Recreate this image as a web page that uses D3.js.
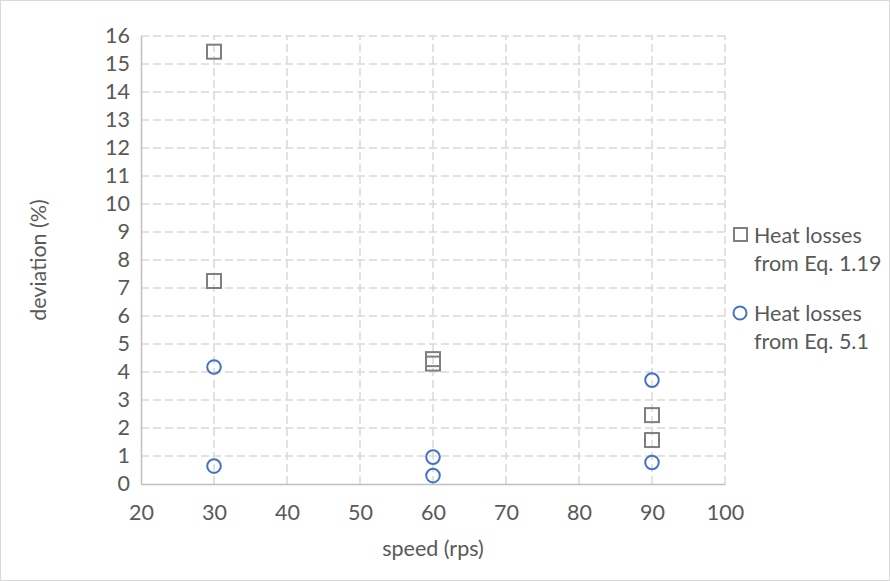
<!DOCTYPE html>
<html><head><meta charset="utf-8">
<script src="https://cdn.jsdelivr.net/npm/d3@7"></script>
<style>body{margin:0;background:#fff;} text{font-family:Lato,"Open Sans",sans-serif;}</style>
</head><body><svg id="c" width="890" height="581"></svg>
<script>
const eq119X = [30, 30, 60, 60, 90, 90];
const eq119Y = [15.44, 7.25, 4.46, 4.30, 2.46, 1.57];
const eq51X = [30, 30, 60, 60, 90, 90];
const eq51Y = [4.18, 0.64, 0.96, 0.30, 3.71, 0.77];
const xTicks = [20, 30, 40, 50, 60, 70, 80, 90, 100];
const yTicks = d3.range(0, 17);
const seriesNames = [["Heat losses", "from Eq. 1.19"], ["Heat losses", "from Eq. 5.1"]];

const FS = "21.5px";
const svg = d3.select("#c");
svg.append("rect").attr("x",0.5).attr("y",0.5).attr("width",889).attr("height",580)
  .attr("fill","#fff").attr("stroke","#d9d9d9");

const x = d3.scaleLinear().domain([20,100]).range([141,725]);
const y = d3.scaleLinear().domain([0,16]).range([484,36]);
const txt = "#595959";

// grid
svg.append("g").selectAll("line").data(yTicks.filter(d=>d>0)).join("line")
  .attr("x1",x(20)).attr("x2",x(100)).attr("y1",d=>y(d)).attr("y2",d=>y(d))
  .attr("stroke","#d9d9d9").attr("stroke-width",1.5).attr("stroke-dasharray","8,4");
svg.append("g").selectAll("line").data(xTicks.filter(d=>d>20)).join("line")
  .attr("x1",d=>x(d)).attr("x2",d=>x(d)).attr("y1",y(0)).attr("y2",y(16))
  .attr("stroke","#d9d9d9").attr("stroke-width",1.5).attr("stroke-dasharray","8,4");

// axes
const xa = svg.append("g").attr("transform",`translate(0,${y(0)})`)
  .call(d3.axisBottom(x).tickValues(xTicks).tickSize(0).tickPadding(21));
const ya = svg.append("g").attr("transform",`translate(${x(20)},0)`)
  .call(d3.axisLeft(y).tickValues(yTicks).tickSize(0).tickPadding(11));
[xa,ya].forEach(a=>{
  a.select(".domain").attr("stroke","#bfbfbf").attr("stroke-width",1.5);
  a.selectAll("text").attr("fill",txt).style("font-size",FS).style("font-family","Lato,'Open Sans',sans-serif");
});

// markers
const sq = 14;
svg.append("g").selectAll("rect").data(eq119X.map((d,i)=>[d,eq119Y[i]])).join("rect")
  .attr("x",d=>x(d[0])-sq/2).attr("y",d=>y(d[1])-sq/2).attr("width",sq).attr("height",sq)
  .attr("fill","none").attr("stroke","#7f7f7f").attr("stroke-width",2);
svg.append("g").selectAll("circle").data(eq51X.map((d,i)=>[d,eq51Y[i]])).join("circle")
  .attr("cx",d=>x(d[0])).attr("cy",d=>y(d[1])).attr("r",6.8)
  .attr("fill","none").attr("stroke","#4472c4").attr("stroke-width",2);

// axis titles
svg.append("text").attr("x",433).attr("y",556).attr("text-anchor","middle")
  .attr("fill",txt).style("font-size",FS).text("speed (rps)");
svg.append("text").attr("transform","translate(46,260) rotate(-90)").attr("text-anchor","middle")
  .attr("fill",txt).style("font-size",FS).text("deviation (%)");

// legend
const leg = svg.append("g");
const legY = [235, 313];
seriesNames.forEach((nm,i)=>{
  const g = leg.append("g").attr("transform",`translate(0,${legY[i]})`);
  if(i===0) g.append("rect").attr("x",734).attr("y",-7).attr("width",13).attr("height",13)
    .attr("fill","none").attr("stroke","#7f7f7f").attr("stroke-width",2);
  else g.append("circle").attr("cx",740).attr("cy",0).attr("r",6.5)
    .attr("fill","none").attr("stroke","#4472c4").attr("stroke-width",2);
  nm.forEach((t,j)=>g.append("text").attr("x",754).attr("y",j*28+8)
    .attr("fill",txt).style("font-size",FS).text(t));
});
</script></body></html>
